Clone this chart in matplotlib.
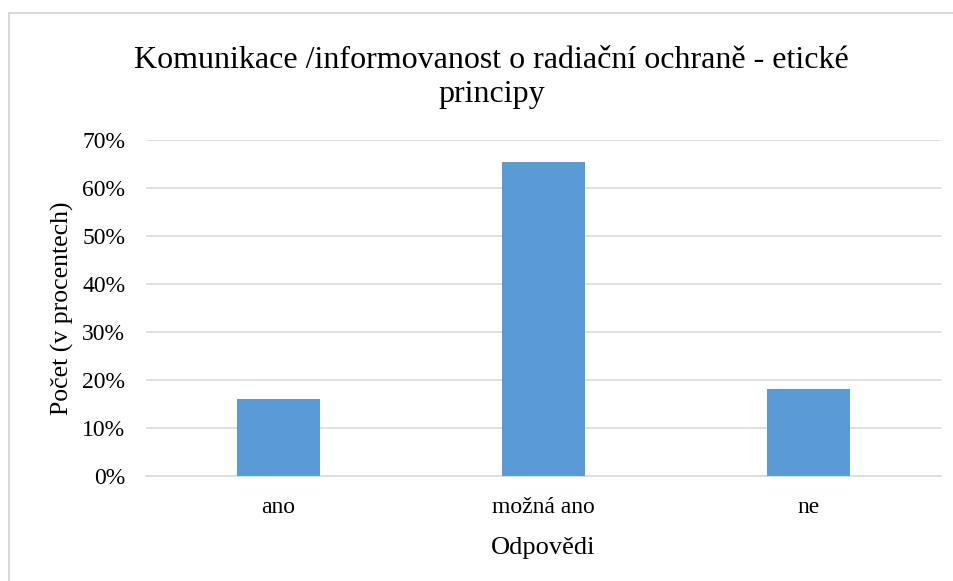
import matplotlib.pyplot as plt
from matplotlib.patches import Rectangle
from matplotlib.ticker import PercentFormatter

categories = ['ano', 'možná ano', 'ne']
values = [16.1, 65.4, 18.2]

plt.rcParams['font.family'] = ['Liberation Serif', 'DejaVu Serif']

fig = plt.figure(figsize=(9.54, 5.81), dpi=100)
ax = fig.add_axes([0.153, 0.1807, 0.833, 0.5783])

# rámeček kolem grafu (pravá a dolní hrana mimo obrázek)
fig.patches.append(Rectangle((9 / 954, -0.01), 1.0, 1 - 13 / 581 + 0.01,
                             transform=fig.transFigure, fill=False,
                             edgecolor='#d9d9d9', linewidth=1.5))

ax.bar(categories, values, width=0.313, color='#5b9bd5', zorder=3)
ax.set_xlim(-0.5, 2.5)
ax.set_ylim(0, 70)
ax.set_yticks(range(0, 71, 10))
ax.yaxis.set_major_formatter(PercentFormatter(decimals=0))
ax.grid(axis='y', color='#d9d9d9', linewidth=1.2, zorder=0)
for s in ['top', 'right', 'left']:
    ax.spines[s].set_visible(False)
ax.spines['bottom'].set_color('#d9d9d9')
ax.spines['bottom'].set_linewidth(1.2)
ax.tick_params(length=0, labelsize=17, pad=15)

ax.set_xlabel('Odpovědi', fontsize=19, labelpad=14)
ax.set_ylabel('Počet (v procentech)', fontsize=18.5, labelpad=6)
fig.text(0.515, 0.867, 'Komunikace /informovanost o radiační ochraně - etické\nprincipy',
         ha='center', va='center', fontsize=23, linespacing=1.25)

plt.savefig('out.png', dpi=100)
